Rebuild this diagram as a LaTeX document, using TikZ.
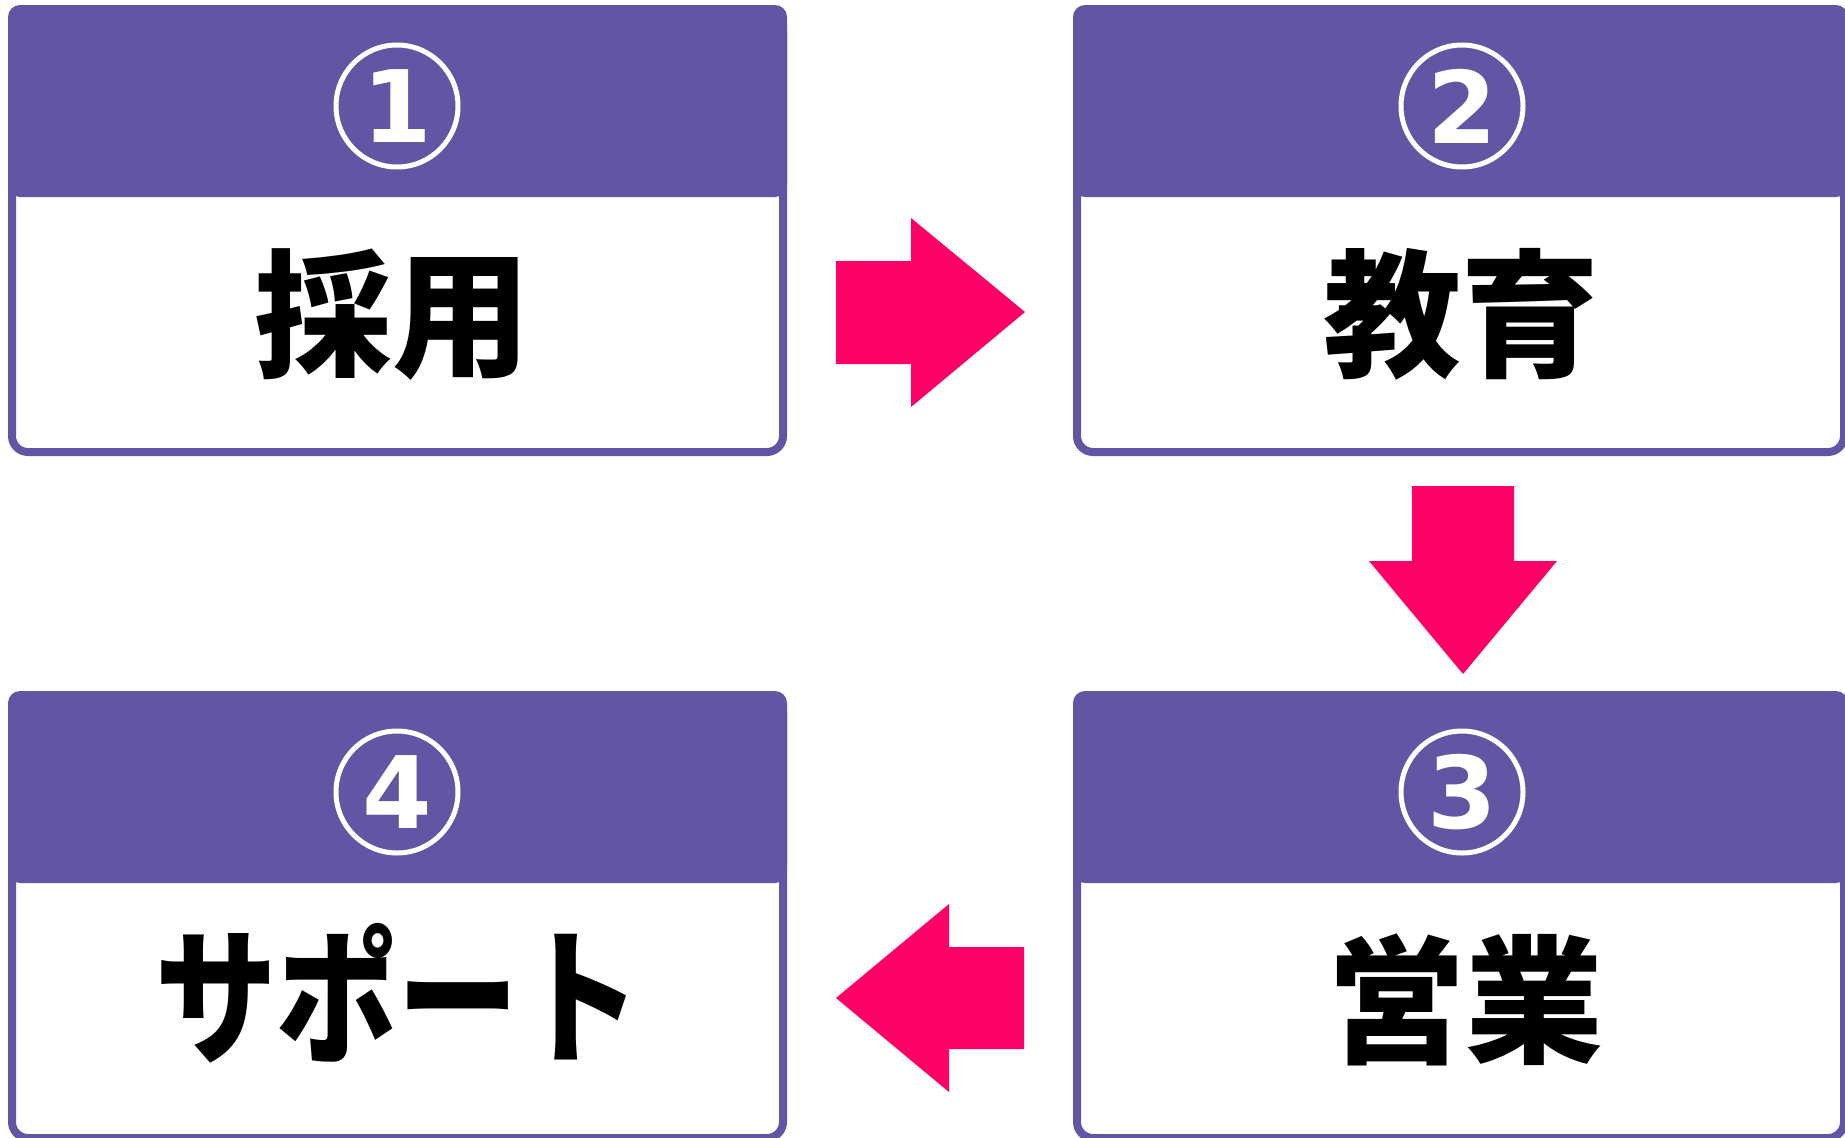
\documentclass[tikz,border=0pt]{standalone}
\usepackage{fontspec}
\newfontfamily\jp{Noto Sans CJK JP}
\newfontfamily\digitfont{DejaVu Sans}
\definecolor{hdr}{RGB}{98,86,164}
\definecolor{arr}{RGB}{255,0,102}
\tikzset{
  frame/.style={draw=hdr, line width=8pt, fill=white, rounded corners=16pt},
  header/.style={fill=hdr, rounded corners=12pt},
  numcirc/.style={circle, draw=white, line width=5pt, minimum size=122pt, inner sep=0pt,
    text=white, font=\digitfont\bfseries\fontsize{100}{100}\selectfont},
  lbltxt/.style={anchor=base, inner sep=0pt, font=\jp\bfseries\fontsize{138}{138}\selectfont},
  flow/.style={fill=arr}
}
\begin{document}
\begin{tikzpicture}[x=1pt,y=-1pt]
\useasboundingbox (0,0) rectangle (1845,1138);
\clip (0,0) rectangle (1845,1138);
\foreach \n/\x/\y/\w/\lx/\num/\lbl in {c1/8/5/779/392/1/採用, c2/1073/5/775/1461/2/教育, c3/1073/691/775/1465/3/営業, c4/8/691/779/398/4/{\scalebox{0.88}[1.07]{サポート}}}{
  \draw[frame] (\x+4,\y+4) rectangle (\x+\w-4,\y+447);
  \fill[header] (\x,\y) rectangle (\x+\w,\y+192);
  \node[numcirc] (\n num) at (\x+389,\y+101) {\num};
  \node[lbltxt] (\n lbl) at (\lx,\y+361) {\lbl};
}
\fill[flow] (836,261) -- (911,261) -- (911,218) -- (1025,312) -- (911,407) -- (911,364) -- (836,364) -- cycle;
\fill[flow] (1412,486) -- (1514,486) -- (1514,561) -- (1557,561) -- (1463,674) -- (1369,561) -- (1412,561) -- cycle;
\fill[flow] (1024,947) -- (949,947) -- (949,904) -- (836,998) -- (949,1092) -- (949,1049) -- (1024,1049) -- cycle;
\end{tikzpicture}
\end{document}
